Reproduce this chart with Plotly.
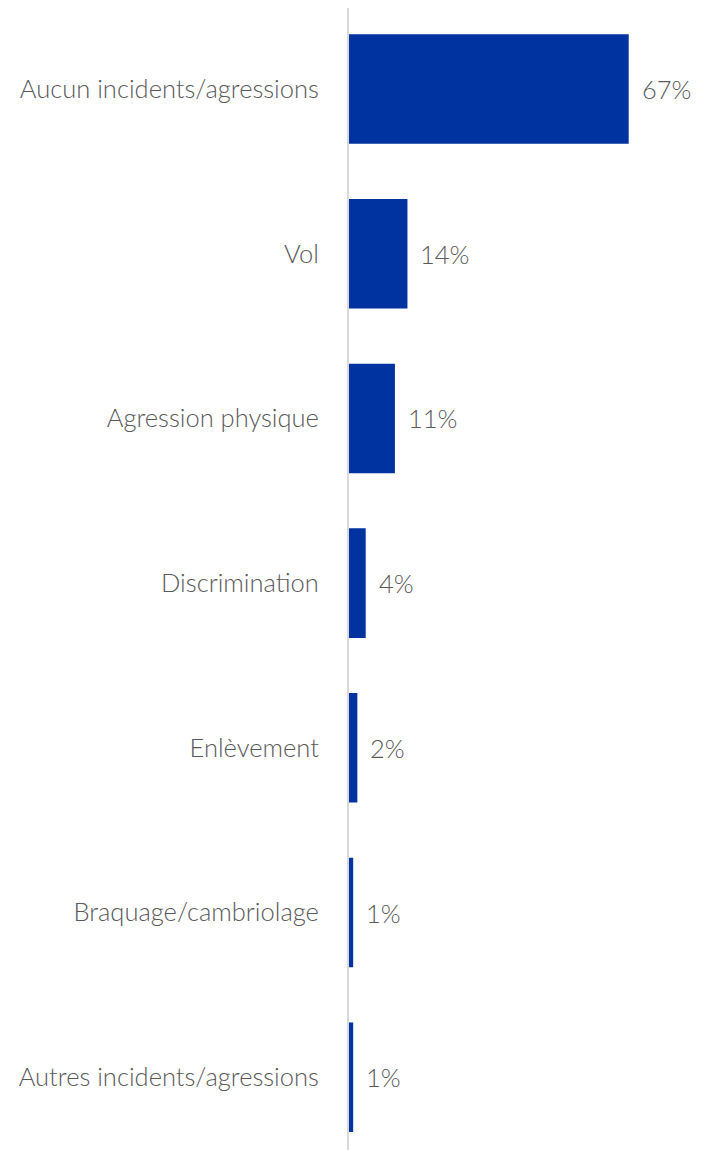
import plotly.graph_objects as go

categories = ["Aucun incidents/agressions", "Vol", "Agression physique", "Discrimination",
              "Enlèvement", "Braquage/cambriolage", "Autres incidents/agressions"]
values = [67, 14, 11, 4, 2, 1, 1]
labels = ["67%", "14%", "11%", "4%", "2%", "1%", "1%"]

BAR = "#0033A0"
TXT = "#595959"
FONT = "Lato"
SIZE = 25.5

fig = go.Figure(go.Bar(
    x=values, y=categories, orientation="h",
    marker=dict(color=BAR, line=dict(width=0)),
    width=0.665, hoverinfo="skip",
))

for c, v, t in zip(categories, values, labels):
    fig.add_annotation(x=v, y=c, text=t, showarrow=False, xanchor="left",
                       xshift=11, font=dict(family=FONT, size=SIZE, color=TXT, weight=300))

fig.update_layout(
    width=700, height=1142,
    margin=dict(l=341, r=25, t=0, b=0),
    paper_bgcolor="white", plot_bgcolor="white",
    showlegend=False,
    font=dict(family=FONT, size=SIZE, color=TXT),
    xaxis=dict(range=[0, 80], visible=False, fixedrange=True),
    yaxis=dict(categoryorder="array", categoryarray=categories,
               range=[6.442, -0.492], autorange=False,
               showline=True, linecolor="#d9d9d9", linewidth=2,
               showgrid=False, zeroline=False, ticks="",
               ticklabelstandoff=23,
               tickfont=dict(family=FONT, size=SIZE, color=TXT, weight=300)),
)

fig.write_html("out.html")
